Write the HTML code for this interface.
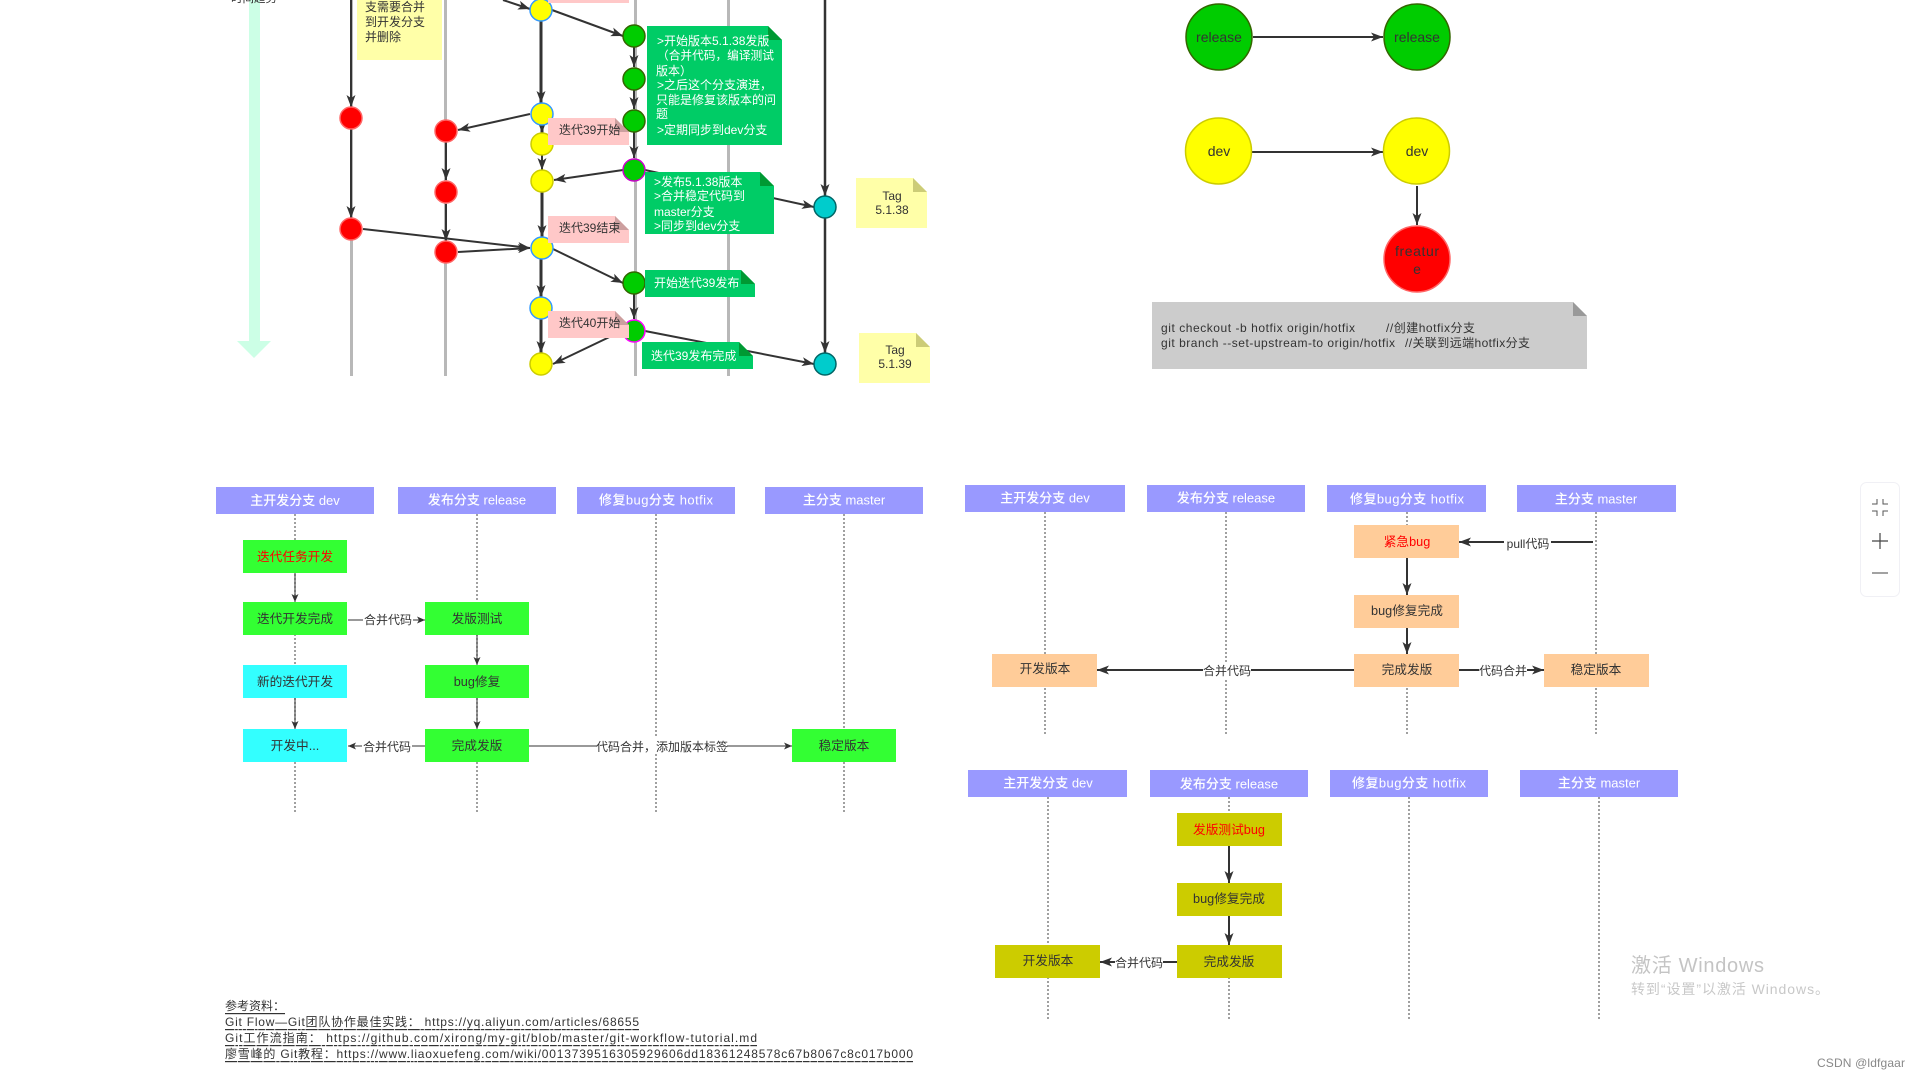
<!DOCTYPE html>
<html lang="zh">
<head>
<meta charset="utf-8">
<title>Git Flow diagram</title>
<style>
html,body{margin:0;padding:0;background:#fff;width:1920px;height:1080px;overflow:hidden}
svg{display:block}
text{font-family:"Liberation Sans","Noto Sans CJK SC",sans-serif;fill:#333;dominant-baseline:central}
.c{text-anchor:middle}
.b{font-size:12.7px}
.l{font-size:12px}
.h{font-size:13px;fill:#fff;text-anchor:middle;font-weight:500}
.w{font-size:12px;fill:#fff}
.ll{stroke:#808080;stroke-width:1.5;stroke-dasharray:2 2;fill:none}
.g{stroke:#b8b8b8;stroke-width:3;fill:none}
.a{stroke:#333;stroke-width:2;fill:none;marker-end:url(#m)}
.t{stroke:#333;stroke-width:3;fill:none;marker-end:url(#m)}
.s{stroke:#333;stroke-width:1;fill:none;marker-end:url(#n)}
.p{stroke:#333;stroke-width:2;fill:none;marker-end:url(#m)}
.hd{fill:#9999ff}
.ye{fill:#ffff00;stroke:#cccc00;stroke-width:1.5}
.yb{fill:#ffff00;stroke:#3399ff;stroke-width:1.5}
.re{fill:#ff0000;stroke:#ff6666;stroke-width:1.5}
.gr{fill:#00cc00;stroke:#336600;stroke-width:1.5}
.gm{fill:#00cc00;stroke:#cc00cc;stroke-width:1.5}
.gf{fill:#00cc00;stroke:#ff00ff;stroke-width:1.5}
.te{fill:#00cccc;stroke:#006666;stroke-width:1.5}
</style>
</head>
<body>
<svg width="1920" height="1080" viewBox="0 0 1920 1080" xmlns="http://www.w3.org/2000/svg">
<defs>
<marker id="m" markerUnits="userSpaceOnUse" markerWidth="13" markerHeight="11" refX="12" refY="5" orient="auto"><path d="M0,0.5 L12,5 L0,9.5 L3,5 Z" fill="#333"/></marker>
<marker id="n" markerUnits="userSpaceOnUse" markerWidth="9" markerHeight="8" refX="8" refY="4" orient="auto"><path d="M0,0.5 L8,4 L0,7.5 L2,4 Z" fill="#333"/></marker>
</defs>

<!-- time arrow -->
<polygon points="249,0 260,0 260,341 271,341 254,358 237,341 249,341" fill="#ccffe6"/>
<text x="254" y="-1" class="c" font-size="11.5">时间趋势</text>

<!-- branch lines -->
<path class="g" d="M351.500 0V376"/>
<path class="g" d="M445.500 0V376"/>
<path class="g" d="M635.500 0V376"/>
<path class="g" d="M728.500 0V376"/>

<!-- arrows, branch diagram -->
<path class="a" d="M351 0V107"/>
<path class="a" d="M351 129V218"/>
<path class="a" d="M446 142V180"/>
<path class="a" d="M446 204V241"/>
<path class="a" d="M503 0L530 9"/>
<path class="a" d="M552 10L623 36"/>
<path class="t" d="M541 21V103"/>
<path class="t" d="M542 125V133"/>
<path class="a" d="M542 155V170"/>
<path class="t" d="M542 192V237"/>
<path class="t" d="M541 259V297"/>
<path class="t" d="M541 319V353"/>
<path class="a" d="M530 114L458 130"/>
<path class="a" d="M623 170L554 180"/>
<path class="a" d="M363 229L530 248"/>
<path class="a" d="M458 252L530 248"/>
<path class="a" d="M553 249L623 283"/>
<path class="a" d="M622 331L553 364"/>
<path class="a" d="M634 47V67"/>
<path class="a" d="M634 90V109"/>
<path class="a" d="M634 132V158"/>
<path class="a" d="M634 294V319"/>
<path class="a" d="M645 170L814 207"/>
<path class="a" d="M645 331L814 364"/>
<path class="t" d="M825 0V196" style="stroke-width:2.500"/>
<path class="t" d="M825 218V353" style="stroke-width:2.500"/>

<!-- nodes -->
<circle cx="351" cy="118" r="11" class="re"/>
<circle cx="351" cy="229" r="11" class="re"/>
<circle cx="446" cy="131" r="11" class="re"/>
<circle cx="446" cy="192" r="11" class="re"/>
<circle cx="446" cy="252" r="11" class="re"/>
<circle cx="541" cy="10" r="11" class="yb"/>
<circle cx="542" cy="114" r="11" class="yb"/>
<circle cx="542" cy="144" r="11" class="ye"/>
<circle cx="542" cy="181" r="11" class="ye"/>
<circle cx="542" cy="248" r="11" class="yb"/>
<circle cx="541" cy="308" r="11" class="yb"/>
<circle cx="541" cy="364" r="11" class="ye"/>
<circle cx="634" cy="36" r="11" class="gr"/>
<circle cx="634" cy="79" r="11" class="gr"/>
<circle cx="634" cy="121" r="11" class="gr"/>
<circle cx="634" cy="170" r="11" class="gm"/>
<circle cx="634" cy="283" r="11" class="gr"/>
<circle cx="634" cy="331" r="11" class="gf"/>
<circle cx="825" cy="207" r="11" class="te"/>
<circle cx="825" cy="364" r="11" class="te"/>

<!-- yellow sticky, top-left -->
<rect x="357" y="-10" width="85" height="70" fill="#ffffa8"/>
<text x="365" y="7" font-size="12">支需要合并</text>
<text x="365" y="22" font-size="12">到开发分支</text>
<text x="365" y="37" font-size="12">并删除</text>

<!-- pink notes -->
<rect x="548" y="-20" width="81" height="23" fill="#ffc8c8"/>
<polygon points="548,118 615,118 629,132 629,145 548,145" fill="#ffc8c8"/>
<polygon points="615,118 629,132 615,132" fill="#cc9f9f"/>
<text x="559" y="130" font-size="12">迭代39开始</text>
<polygon points="548,216 615,216 629,230 629,243 548,243" fill="#ffc8c8"/>
<polygon points="615,216 629,230 615,230" fill="#cc9f9f"/>
<text x="559" y="228" font-size="12">迭代39结束</text>
<polygon points="548,311 615,311 629,325 629,338 548,338" fill="#ffc8c8"/>
<polygon points="615,311 629,325 615,325" fill="#cc9f9f"/>
<text x="559" y="323" font-size="12">迭代40开始</text>

<!-- green notes -->
<polygon points="647,26 768,26 782,40 782,145 647,145" fill="#00cc66"/>
<polygon points="768,26 782,40 768,40" fill="#009933"/>
<text x="657" y="41" class="w">&gt;开始版本5.1.38发版</text>
<text x="657" y="56" class="w" style="font-size:11.7px">（合并代码，编译测试</text>
<text x="656" y="71" class="w">版本）</text>
<text x="657" y="85" class="w">&gt;之后这个分支演进，</text>
<text x="656" y="100" class="w">只能是修复该版本的问</text>
<text x="656" y="114" class="w">题</text>
<text x="657" y="130" class="w">&gt;定期同步到dev分支</text>

<polygon points="645,172 760,172 774,186 774,234 645,234" fill="#00cc66"/>
<polygon points="760,172 774,186 760,186" fill="#009933"/>
<text x="654" y="182" class="w">&gt;发布5.1.38版本</text>
<text x="654" y="196" class="w">&gt;合并稳定代码到</text>
<text x="654" y="212" class="w">master分支</text>
<text x="654" y="226" class="w">&gt;同步到dev分支</text>

<polygon points="645,270 741,270 755,284 755,297 645,297" fill="#00cc66"/>
<polygon points="741,270 755,284 741,284" fill="#009933"/>
<text x="654" y="283" class="w">开始迭代39发布</text>

<polygon points="642,342 739,342 753,356 753,369 642,369" fill="#00cc66"/>
<polygon points="739,342 753,356 739,356" fill="#009933"/>
<text x="651" y="356" class="w">迭代39发布完成</text>

<!-- tag notes -->
<polygon points="856,178 913,178 927,192 927,228 856,228" fill="#ffffa8"/>
<polygon points="913,178 927,192 913,192" fill="#cccc77"/>
<text x="892" y="196" class="c" font-size="12">Tag</text>
<text x="892" y="210" class="c" font-size="12">5.1.38</text>
<polygon points="859,333 916,333 930,347 930,383 859,383" fill="#ffffa8"/>
<polygon points="916,333 930,347 916,347" fill="#cccc77"/>
<text x="895" y="350" class="c" font-size="12">Tag</text>
<text x="895" y="364" class="c" font-size="12">5.1.39</text>

<!-- legend, top-right -->
<path class="a" d="M1253 37H1383"/>
<path class="a" d="M1252 152H1383"/>
<path class="a" d="M1417 186V225"/>
<circle cx="1219" cy="37" r="33" class="gr"/>
<circle cx="1417" cy="37" r="33" class="gr"/>
<circle cx="1218.500" cy="151" r="33" class="ye"/>
<circle cx="1416.500" cy="151" r="33" class="ye"/>
<circle cx="1417" cy="259" r="33" class="re"/>
<text x="1219" y="37" class="c" font-size="14">release</text>
<text x="1417" y="37" class="c" font-size="14">release</text>
<text x="1219" y="151" class="c" font-size="14">dev</text>
<text x="1417" y="151" class="c" font-size="14">dev</text>
<text x="1417" y="251" class="c" font-size="14" textLength="44">freatur</text>
<text x="1417" y="269" class="c" font-size="14">e</text>

<polygon points="1152,302 1573,302 1587,316 1587,369 1152,369" fill="#cccccc"/>
<polygon points="1573,302 1587,316 1573,316" fill="#999999"/>
<text x="1161" y="328" font-size="12" textLength="194">git checkout -b hotfix origin/hotfix</text>
<text x="1386" y="328" font-size="12" textLength="89">//创建hotfix分支</text>
<text x="1161" y="343" font-size="12" textLength="234">git branch --set-upstream-to origin/hotfix</text>
<text x="1405" y="343" font-size="12" textLength="125">//关联到远端hotfix分支</text>

<!-- sequence 1 -->
<path class="ll" d="M295 514V813"/>
<path class="ll" d="M477 514V813"/>
<path class="ll" d="M656 514V813"/>
<path class="ll" d="M844 514V813"/>
<rect x="216" y="487" width="158" height="27" class="hd"/>
<rect x="398" y="487" width="158" height="27" class="hd"/>
<rect x="577" y="487" width="158" height="27" class="hd"/>
<rect x="765" y="487" width="158" height="27" class="hd"/>
<text x="295" y="500.500" class="h">主开发分支 dev</text>
<text x="477" y="500" class="h">发布分支 release</text>
<text x="656" y="500" class="h" textLength="114">修复bug分支 hotfix</text>
<text x="844" y="500" class="h">主分支 master</text>

<path class="s" d="M295 573V602"/>
<path class="s" d="M477 635V665"/>
<path class="s" d="M295 698V729"/>
<path class="s" d="M477 698V729"/>
<path class="s" d="M348 620H425"/>
<path class="s" d="M425 746H348"/>
<path class="s" d="M529 746H792"/>

<rect x="243" y="540" width="104" height="33" fill="#33ff33"/>
<text x="295" y="557" class="c b" style="fill:#ff0000">迭代任务开发</text>
<rect x="243" y="602" width="104" height="33" fill="#33ff33"/>
<text x="295" y="619" class="c b">迭代开发完成</text>
<rect x="425" y="602" width="104" height="33" fill="#33ff33"/>
<text x="477" y="619" class="c b">发版测试</text>
<rect x="243" y="665" width="104" height="33" fill="#33ffff"/>
<text x="295" y="682" class="c b">新的迭代开发</text>
<rect x="425" y="665" width="104" height="33" fill="#33ff33"/>
<text x="477" y="682" class="c b">bug修复</text>
<rect x="243" y="729" width="104" height="33" fill="#33ffff"/>
<text x="295" y="746" class="c b">开发中...</text>
<rect x="425" y="729" width="104" height="33" fill="#33ff33"/>
<text x="477" y="746" class="c b">完成发版</text>
<rect x="792" y="729" width="104" height="33" fill="#33ff33"/>
<text x="844" y="746" class="c b">稳定版本</text>

<rect x="363" y="612" width="50" height="16" fill="#fff"/>
<text x="388" y="620" class="c l">合并代码</text>
<rect x="362" y="738" width="50" height="16" fill="#fff"/>
<text x="387" y="747" class="c l">合并代码</text>
<rect x="597" y="738" width="130" height="16" fill="#fff"/>
<text x="662" y="747" class="c l">代码合并，添加版本标签</text>

<!-- sequence 2 -->
<path class="ll" d="M1045 512V734"/>
<path class="ll" d="M1226 512V734"/>
<path class="ll" d="M1407 512V734"/>
<path class="ll" d="M1596 512V734"/>
<rect x="965" y="485" width="160" height="27" class="hd"/>
<rect x="1147" y="485" width="158" height="27" class="hd"/>
<rect x="1327" y="485" width="159" height="27" class="hd"/>
<rect x="1517" y="485" width="159" height="27" class="hd"/>
<text x="1045" y="498" class="h">主开发分支 dev</text>
<text x="1226" y="498" class="h">发布分支 release</text>
<text x="1407" y="499" class="h" textLength="114">修复bug分支 hotfix</text>
<text x="1596" y="499" class="h">主分支 master</text>

<path class="p" d="M1593 542H1459"/>
<path class="p" d="M1407 558V595"/>
<path class="p" d="M1407 628V654"/>
<path class="p" d="M1354 670H1097"/>
<path class="p" d="M1459 670H1544"/>

<rect x="1354" y="525" width="105" height="33" fill="#ffcc99"/>
<text x="1407" y="542" class="c b" style="fill:#ff0000">紧急bug</text>
<rect x="1354" y="595" width="105" height="33" fill="#ffcc99"/>
<text x="1407" y="611" class="c b">bug修复完成</text>
<rect x="1354" y="654" width="105" height="33" fill="#ffcc99"/>
<text x="1407" y="670" class="c b">完成发版</text>
<rect x="992" y="654" width="105" height="33" fill="#ffcc99"/>
<text x="1045" y="669" class="c b">开发版本</text>
<rect x="1544" y="654" width="105" height="33" fill="#ffcc99"/>
<text x="1596" y="670" class="c b">稳定版本</text>

<rect x="1504" y="534" width="47" height="16" fill="#fff"/>
<text x="1528" y="544" class="c l">pull代码</text>
<rect x="1203" y="663" width="48" height="16" fill="#fff"/>
<text x="1227" y="671" class="c l">合并代码</text>
<rect x="1479" y="663" width="48" height="16" fill="#fff"/>
<text x="1503" y="671" class="c l">代码合并</text>

<!-- sequence 3 -->
<path class="ll" d="M1048 797V1019"/>
<path class="ll" d="M1229 797V1019"/>
<path class="ll" d="M1409 797V1019"/>
<path class="ll" d="M1599 797V1019"/>
<rect x="968" y="770" width="159" height="27" class="hd"/>
<rect x="1150" y="770" width="158" height="27" class="hd"/>
<rect x="1330" y="770" width="158" height="27" class="hd"/>
<rect x="1520" y="770" width="158" height="27" class="hd"/>
<text x="1048" y="783" class="h">主开发分支 dev</text>
<text x="1229" y="784" class="h">发布分支 release</text>
<text x="1409" y="783" class="h" textLength="114">修复bug分支 hotfix</text>
<text x="1599" y="783" class="h">主分支 master</text>

<path class="p" d="M1229 846V883"/>
<path class="p" d="M1229 916V945"/>
<path class="p" d="M1177 962H1100"/>

<rect x="1177" y="813" width="105" height="33" fill="#cccc00"/>
<text x="1229" y="830" class="c b" style="fill:#ff0000">发版测试bug</text>
<rect x="1177" y="883" width="105" height="33" fill="#cccc00"/>
<text x="1229" y="899" class="c b">bug修复完成</text>
<rect x="1177" y="945" width="105" height="33" fill="#cccc00"/>
<text x="1229" y="962" class="c b">完成发版</text>
<rect x="995" y="945" width="105" height="33" fill="#cccc00"/>
<text x="1048" y="961" class="c b">开发版本</text>

<rect x="1115" y="954" width="48" height="16" fill="#fff"/>
<text x="1139" y="963" class="c l">合并代码</text>

<!-- references -->
<text x="225" y="1006" font-size="12" text-decoration="underline">参考资料：</text>
<text x="225" y="1022" font-size="12" text-decoration="underline" textLength="414">Git Flow—Git团队协作最佳实践： https://yq.aliyun.com/articles/68655</text>
<text x="225" y="1038" font-size="12" text-decoration="underline" textLength="532">Git工作流指南： https://github.com/xirong/my-git/blob/master/git-workflow-tutorial.md</text>
<text x="225" y="1054" font-size="12" text-decoration="underline" textLength="688">廖雪峰的 Git教程：https://www.liaoxuefeng.com/wiki/0013739516305929606dd18361248578c67b8067c8c017b000</text>

<!-- zoom panel -->
<rect x="1860.500" y="482.500" width="39" height="114" rx="6" fill="#fff" stroke="#f0f0f5"/>
<path d="M1872 504H1877V499M1883 499V504H1888M1872 511H1877V516M1883 516V511H1888" fill="none" stroke="#555" stroke-width="1"/>
<path d="M1872 541H1888M1880 533V549" fill="none" stroke="#444" stroke-width="1.200"/>
<path d="M1872 573H1888" fill="none" stroke="#444" stroke-width="1"/>

<!-- watermarks -->
<text x="1631" y="966" font-size="20" style="fill:#c4c4c4" textLength="133">激活 Windows</text>
<text x="1631" y="989" font-size="14" style="fill:#c8c8c8" textLength="198">转到“设置”以激活 Windows。</text>
<text x="1817" y="1063" font-size="12" style="fill:#888" textLength="88">CSDN @ldfgaar</text>
</svg>
</body>
</html>
